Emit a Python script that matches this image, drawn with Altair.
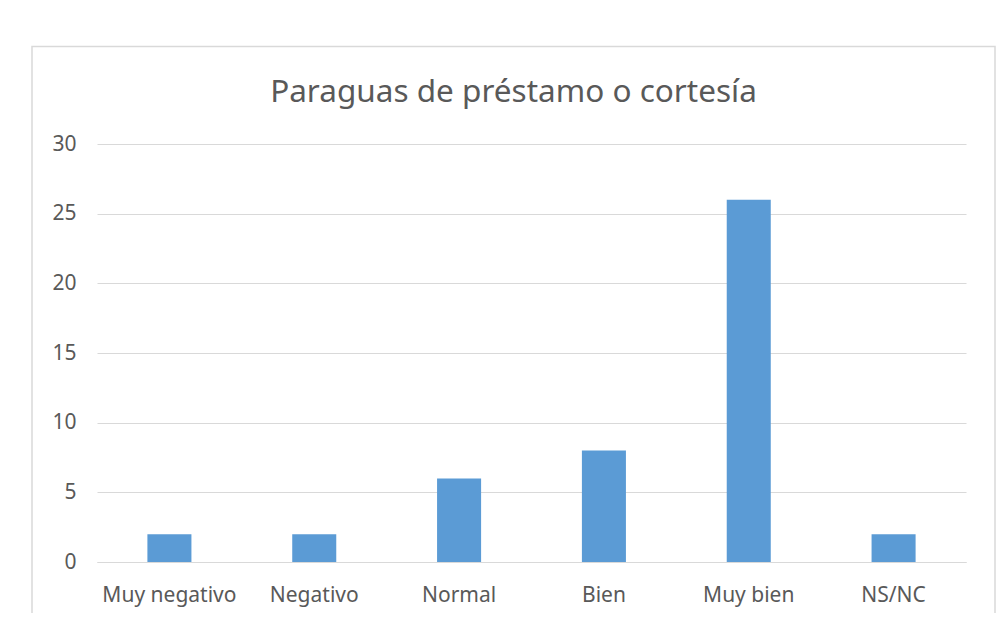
import altair as alt
import pandas as pd

categories = ["Muy negativo", "Negativo", "Normal", "Bien", "Muy bien", "NS/NC"]
values = [2, 2, 6, 8, 26, 2]
y_ticks = [0, 5, 10, 15, 20, 25, 30]
title_text = "Paraguas de préstamo o cortesía"

df = pd.DataFrame({"cat": categories, "val": values})

FONT = "Noto Sans"
TXT = "#595959"
GRID = "#D9D9D9"

W, H = 869, 418

bars = alt.Chart(df).mark_bar(color="#5B9BD5").encode(
    x=alt.X("cat:N", sort=categories,
            scale=alt.Scale(paddingInner=0.696, paddingOuter=0.348),
            axis=alt.Axis(title=None, labelAngle=0, ticks=False, domain=True,
                          domainColor=GRID, domainWidth=1,
                          labelFont=FONT, labelFontSize=21, labelColor=TXT,
                          labelPadding=22)),
    y=alt.Y("val:Q", scale=alt.Scale(domain=[0, 30], nice=False),
            axis=alt.Axis(title=None, values=y_ticks, ticks=False, domain=False,
                          grid=True, gridColor=GRID, gridWidth=1,
                          labelFont=FONT, labelFontSize=21, labelColor=TXT,
                          labelPadding=21)),
)

title = alt.Chart(pd.DataFrame({"t": [title_text]})).mark_text(
    font=FONT, fontSize=31.5, color=TXT, align="center", baseline="alphabetic"
).encode(text="t:N", x=alt.value(416.5), y=alt.value(-42.5))

border = alt.Chart(pd.DataFrame({"a": [0]})).mark_rect(
    fill=None, stroke=GRID, strokeWidth=1.5
).encode(x=alt.value(-65), x2=alt.value(898), y=alt.value(-97.5), y2=alt.value(480))

chart = alt.layer(border, bars, title).properties(
    width=W, height=H,
    autosize=alt.AutoSizeParams(type="none"),
    padding={"left": 89, "top": 136, "right": 31, "bottom": 51},
).configure_view(stroke=None)

chart.save("out.html", embed_options={"renderer": "svg", "actions": False})
